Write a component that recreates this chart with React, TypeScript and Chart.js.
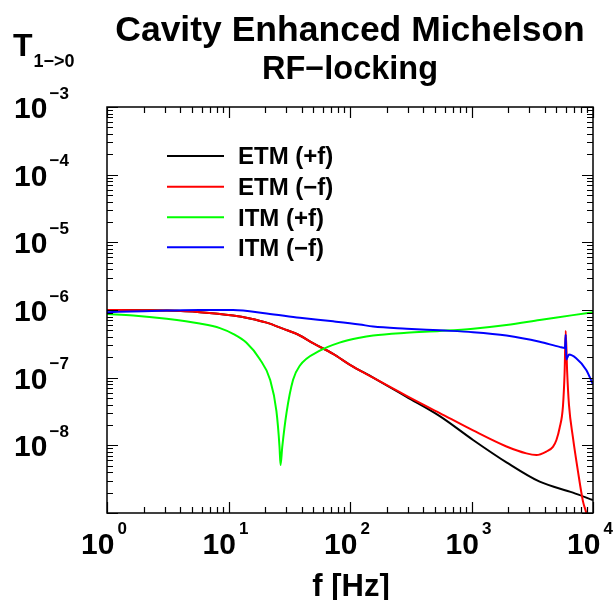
import React, { useEffect, useRef } from "react";
import { Chart, registerables } from "chart.js";

Chart.register(...registerables);

// ---- Data ----
const etmPlusFreq = [1, 2, 3.1, 5.8, 10.9, 15, 20.6, 28, 38.6, 50, 72.6, 100, 155, 292, 548, 1030, 1940, 3640, 6840, 10000];
const etmPlusVal = [1.0e-6, 9.9e-7, 9.8e-7, 9.3e-7, 8.3e-7, 7.5e-7, 6.5e-7, 5.3e-7, 4.2e-7, 3.2e-7, 2.25e-7, 1.55e-7, 1.0e-7, 5.2e-8, 2.7e-8, 1.2e-8, 5.6e-9, 2.9e-9, 2.0e-9, 1.55e-9];

const etmMinusFreq = [1, 2, 3.1, 5.8, 10.9, 15, 20.6, 28, 38.6, 50, 72.6, 100, 155, 292, 548, 1030, 1940, 2830, 3420, 4130, 4680, 5000, 5310, 5660, 5840, 5960, 6130, 6340, 6840, 7510, 8260, 8800, 9500];
const etmMinusVal = [1.0e-6, 9.9e-7, 9.8e-7, 9.3e-7, 8.3e-7, 7.5e-7, 6.5e-7, 5.3e-7, 4.2e-7, 3.2e-7, 2.25e-7, 1.55e-7, 1.0e-7, 5.4e-8, 3.0e-8, 1.66e-8, 9.6e-9, 7.6e-9, 7.2e-9, 8.1e-9, 9.5e-9, 1.2e-8, 1.8e-8, 3.8e-8, 1.2e-7, 4.9e-7, 1.2e-7, 4.0e-8, 1.3e-8, 4.2e-9, 1.5e-9, 1.0e-9, 5.0e-10];

const itmPlusFreq = [1, 1.64, 3.1, 5.8, 8.5, 11, 14, 18, 22, 24.8, 26.3, 26.8, 27.7, 30, 34, 38.6, 56.4, 82, 120, 155, 292, 548, 1030, 1940, 3640, 6840, 10000];
const itmPlusVal = [8.7e-7, 8.3e-7, 7.4e-7, 6.3e-7, 5.4e-7, 4.4e-7, 3.3e-7, 1.9e-7, 9.3e-8, 3.2e-8, 9.5e-9, 5.1e-9, 9.5e-9, 3.0e-8, 9.3e-8, 1.5e-7, 2.5e-7, 3.3e-7, 3.9e-7, 4.2e-7, 4.6e-7, 4.9e-7, 5.3e-7, 6.0e-7, 7.1e-7, 8.4e-7, 9.3e-7];

const itmMinusFreq = [1, 2, 3.1, 5.8, 10.9, 20.6, 38.6, 72.6, 120, 155, 292, 548, 1030, 1940, 3640, 5310, 5880, 5960, 6030, 6340, 7230, 8800, 10000];
const itmMinusVal = [9.3e-7, 9.6e-7, 9.8e-7, 1.0e-6, 1.0e-6, 8.9e-7, 7.7e-7, 6.8e-7, 6.1e-7, 5.7e-7, 5.3e-7, 5.0e-7, 4.7e-7, 4.2e-7, 3.4e-7, 2.85e-7, 2.75e-7, 4.3e-7, 1.85e-7, 2.2e-7, 1.95e-7, 1.3e-7, 7.9e-8];

const seriesLabels = ["ETM (+f)", "ETM (\u2212f)", "ITM (+f)", "ITM (\u2212f)"];
const seriesColors = ["#000000", "#ff0000", "#00ff00", "#0000ff"];

const xTickExponents = [0, 1, 2, 3, 4];
const yTickExponents = [-3, -4, -5, -6, -7, -8];
const titleLines = ["Cavity Enhanced Michelson", "RF\u2212locking"];
const yAxisTitle = "T";
const yAxisSubscript = "1\u2212>0";
const xAxisTitle = "f [Hz]";

const FONT = '"Liberation Sans", Arial, Helvetica, sans-serif';

function toPoints(f: number[], v: number[]) {
  return f.map((x, i) => ({ x, y: v[i] }));
}

const decorPlugin = {
  id: "decor",
  afterDraw(chart: any) {
    const ctx: CanvasRenderingContext2D = chart.ctx;
    const { left, right, top, bottom } = chart.chartArea;
    const xs = chart.scales.x;
    const ys = chart.scales.y;
    ctx.save();

    // Frame
    ctx.strokeStyle = "#000";
    ctx.lineWidth = 1.5;
    ctx.strokeRect(left, top, right - left, bottom - top);

    // Ticks (inward on all four sides)
    ctx.lineWidth = 1.2;
    ctx.beginPath();
    for (let e = 0; e <= 4; e++) {
      for (let m = 1; m <= 9; m++) {
        const v = m * Math.pow(10, e);
        if (v > 1e4) break;
        const px = Math.round(xs.getPixelForValue(v)) + 0.5;
        const len = m === 1 ? 11 : 6;
        ctx.moveTo(px, bottom);
        ctx.lineTo(px, bottom - len);
        ctx.moveTo(px, top);
        ctx.lineTo(px, top + len);
      }
    }
    for (let e = -9; e <= -3; e++) {
      for (let m = 1; m <= 9; m++) {
        const v = m * Math.pow(10, e);
        if (v > 1e-3 * 1.0001) break;
        const py = Math.round(ys.getPixelForValue(v)) + 0.5;
        const len = m === 1 ? 11 : 6;
        ctx.moveTo(left, py);
        ctx.lineTo(left + len, py);
        ctx.moveTo(right, py);
        ctx.lineTo(right - len, py);
      }
    }
    ctx.stroke();

    ctx.fillStyle = "#000";
    ctx.textAlign = "left";
    ctx.textBaseline = "alphabetic";

    // Y tick labels
    for (const e of yTickExponents) {
      const py = ys.getPixelForValue(Math.pow(10, e));
      ctx.font = `bold 30px ${FONT}`;
      ctx.fillText("10", 14, py + 11);
      ctx.font = `bold 17px ${FONT}`;
      ctx.fillText("\u2212" + Math.abs(e), 49.5, py - 8.3);
    }

    // X tick labels
    for (const e of xTickExponents) {
      const px = xs.getPixelForValue(Math.pow(10, e));
      ctx.font = `bold 30px ${FONT}`;
      ctx.fillText("10", px - 26, 554);
      ctx.font = `bold 17px ${FONT}`;
      ctx.fillText(String(e), px + 10.5, 534);
    }

    // Title
    ctx.textAlign = "center";
    ctx.font = `bold 35.5px ${FONT}`;
    ctx.fillText(titleLines[0], 350, 40.7);
    ctx.font = `bold 32.5px ${FONT}`;
    ctx.fillText(titleLines[1], 350, 79.3);

    // X axis title
    ctx.font = `bold 31px ${FONT}`;
    ctx.fillText(xAxisTitle, 351, 596);

    // Y axis title
    ctx.textAlign = "left";
    ctx.font = `bold 32px ${FONT}`;
    ctx.fillText(yAxisTitle, 13, 56);
    ctx.font = `bold 18px ${FONT}`;
    ctx.fillText(yAxisSubscript, 33.5, 66.7);

    // Legend
    const legendY = [156, 186.7, 217.3, 247.3];
    for (let i = 0; i < seriesLabels.length; i++) {
      ctx.strokeStyle = seriesColors[i];
      ctx.lineWidth = 2;
      ctx.beginPath();
      ctx.moveTo(167, legendY[i]);
      ctx.lineTo(224, legendY[i]);
      ctx.stroke();
      ctx.fillStyle = "#000";
      ctx.font = `bold 24px ${FONT}`;
      ctx.fillText(seriesLabels[i], 238, legendY[i] + 8.3);
    }

    ctx.restore();
  },
};

export default function App() {
  const canvasRef = useRef<HTMLCanvasElement | null>(null);

  useEffect(() => {
    const canvas = canvasRef.current;
    if (!canvas) return;
    const series = [
      { f: etmPlusFreq, v: etmPlusVal, order: 3 },
      { f: etmMinusFreq, v: etmMinusVal, order: 2 },
      { f: itmPlusFreq, v: itmPlusVal, order: 1 },
      { f: itmMinusFreq, v: itmMinusVal, order: 0 },
    ];
    const chart = new Chart(canvas, {
      type: "line",
      data: {
        datasets: series.map((s, i) => ({
          label: seriesLabels[i],
          data: toPoints(s.f, s.v),
          borderColor: seriesColors[i],
          backgroundColor: seriesColors[i],
          borderWidth: 2,
          pointRadius: 0,
          cubicInterpolationMode: "monotone",
          fill: false,
          order: s.order,
        })),
      },
      options: {
        responsive: false,
        animation: false,
        devicePixelRatio: 1,
        layout: { padding: { left: 107, top: 107, right: 20, bottom: 87 } },
        plugins: {
          legend: { display: false },
          tooltip: { enabled: false },
          title: { display: false },
        },
        scales: {
          x: { type: "logarithmic", min: 1, max: 1e4, display: false },
          y: { type: "logarithmic", min: 1e-9, max: 1e-3, display: false },
        },
      },
      plugins: [decorPlugin],
    });
    return () => chart.destroy();
  }, []);

  return (
    <div style={{ position: "fixed", left: 0, top: 0, width: 613, height: 600, background: "#fff" }}>
      <canvas ref={canvasRef} width={613} height={600} style={{ display: "block", width: 613, height: 600 }} />
    </div>
  );
}
